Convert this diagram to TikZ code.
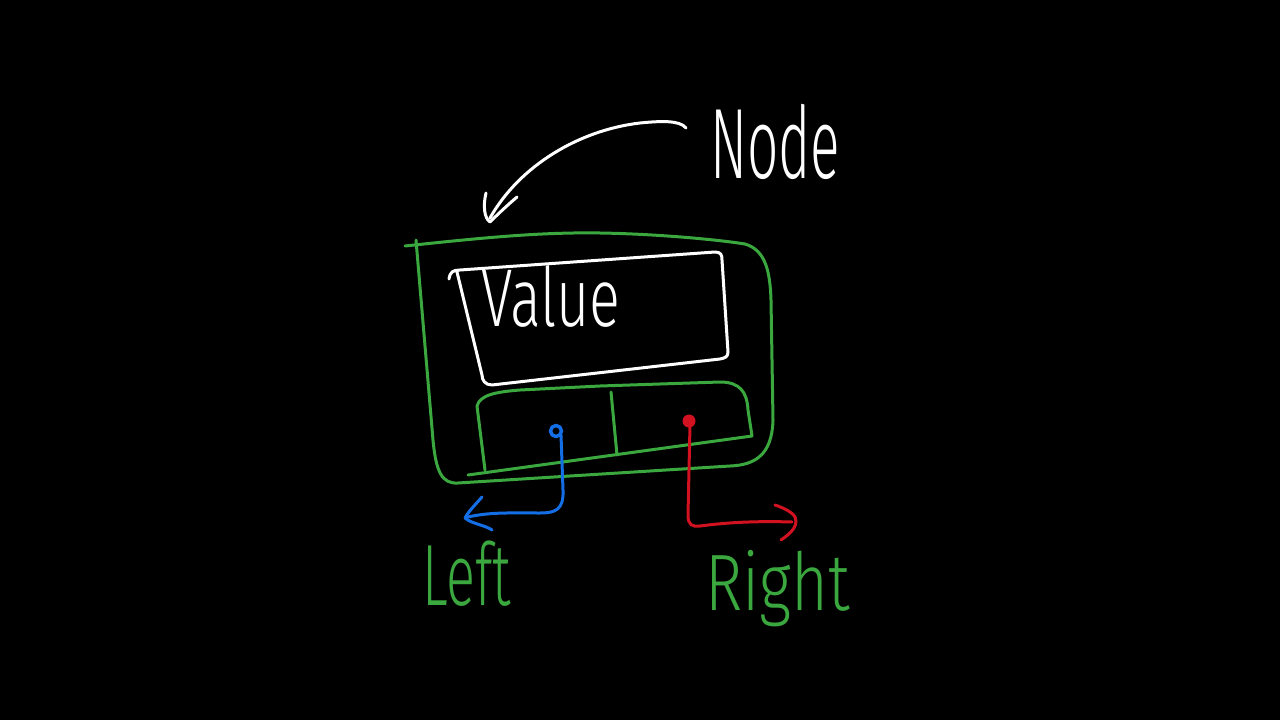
\documentclass[tikz,border=0pt]{standalone}
\usepackage{fontspec}
\setmainfont{Fira Sans Light}
\definecolor{pgreen}{RGB}{58,168,62}
\definecolor{pblue}{RGB}{20,110,230}
\definecolor{pred}{RGB}{210,18,32}
\begin{document}
\begin{tikzpicture}[x=1pt,y=-1pt,line cap=round,line join=round,
  pen/.style={line width=3pt},
  grn/.style={pen,draw=pgreen},
  wht/.style={pen,draw=white},
  blu/.style={pen,draw=pblue},
  rdd/.style={pen,draw=pred},
  hand/.style={inner sep=0pt,anchor=base west}]
\fill[black] (0,0) rectangle (1280,720);
\useasboundingbox (0,0) rectangle (1280,720);
% outer node box
\draw[grn] (405,246) .. controls (480,238) and (540,232) .. (600,233)
  .. controls (660,234) and (720,240) .. (745,244)
  .. controls (765,250) and (770,270) .. (771,300) -- (773,420)
  .. controls (772,455) and (755,465) .. (730,466) -- (458,483)
  .. controls (442,484) and (436,472) .. (433,440) -- (416,240);
% value box
\draw[wht] (449,279) .. controls (450,272) and (453,270) .. (460,270) -- (715,252)
  .. controls (721,252) and (722,255) .. (722,260) -- (728,352)
  .. controls (728,357) and (725,358) .. (720,359) -- (492,385)
  .. controls (485,385) and (482,380) .. (482,375) -- (457,272);
% pointer box
\draw[grn] (477,406) .. controls (480,395) and (495,392) .. (520,390) -- (600,386) -- (720,382)
  .. controls (740,382) and (747,392) .. (748,410) -- (752,436) -- (468,475);
\draw[grn] (477,406) -- (485,470);
\draw[grn] (611,392) -- (617,455);
% texts
\node[hand,text=white,font=\fontsize{100}{100}\selectfont,xscale=0.55] (nodelbl) at (710,178) {Node};
\node[hand,text=white,font=\fontsize{82}{82}\selectfont,xscale=0.7] (valuelbl) at (481,326) {Value};
\node[hand,text=pgreen,font=\fontsize{87}{87}\selectfont,xscale=0.62] (leftlbl) at (422,605) {Left};
\node[hand,text=pgreen,font=\fontsize{80}{80}\selectfont,xscale=0.79] (rightlbl) at (705,610) {Right};
% pointers
\coordinate (bdot) at (556,431);
\coordinate (rdot) at (689,421);
\draw[blu,line width=3.5pt] (bdot) circle (5.5);
\draw[blu] (561,435) -- (563,490) .. controls (564,510) and (555,513) .. (540,513)
  .. controls (510,513) and (490,512) .. (468,517);
\draw[blu] (482,497) .. controls (475,505) and (468,512) .. (465,518)
  .. controls (472,524) and (485,525) .. (492,530);
\fill[pred] (rdot) circle (6.5);
\draw[rdd] (690,425) -- (688,515) .. controls (688,525) and (692,527) .. (700,526)
  .. controls (730,522) and (760,521) .. (792,522);
\draw[rdd] (775,505) .. controls (790,510) and (797,516) .. (796,522)
  .. controls (795,530) and (788,535) .. (781,540);
% node arrow
\draw[wht] (686,128) .. controls (680,120) and (660,121) .. (640,123)
  .. controls (580,130) and (520,165) .. (490,218);
\draw[wht] (486,193) .. controls (483,205) and (484,218) .. (490,222)
  .. controls (500,212) and (510,203) .. (517,197);
\end{tikzpicture}
\end{document}
